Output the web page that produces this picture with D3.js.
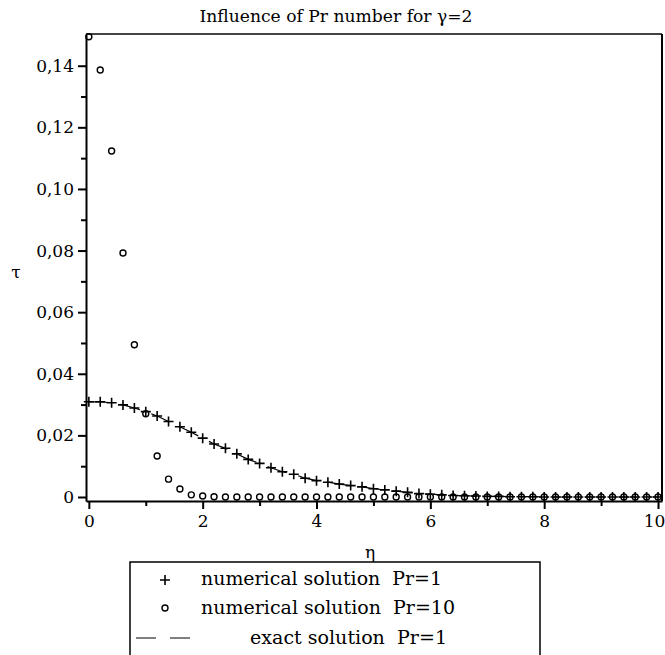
<!DOCTYPE html>
<html>
<head>
<meta charset="utf-8">
<script src="https://cdn.jsdelivr.net/npm/d3@7"></script>
<style>
    body { margin: 0; background: #fff; }
    text { font-family: "DejaVu Serif", "Liberation Serif", serif; fill: #000; white-space: pre; }
</style>
</head>
<body>
<svg id="chart" width="665" height="655"></svg>
<script>
// eta grid of the markers
const etaValues = [0, 0.2, 0.4, 0.6, 0.8, 1.0, 1.2, 1.4, 1.6, 1.8,
                   2.0, 2.2, 2.4, 2.6, 2.8, 3.0, 3.2, 3.4, 3.6, 3.8,
                   4.0, 4.2, 4.4, 4.6, 4.8, 5.0, 5.2, 5.4, 5.6, 5.8,
                   6.0, 6.2, 6.4, 6.6, 6.8, 7.0, 7.2, 7.4, 7.6, 7.8,
                   8.0, 8.2, 8.4, 8.6, 8.8, 9.0, 9.2, 9.4, 9.6, 9.8, 10.0];

// numerical solution Pr=1
const pr1Values = [0.0309, 0.0309, 0.0306, 0.0299, 0.0289, 0.0277, 0.0263, 0.0245, 0.0228, 0.0210,
                   0.0191, 0.0172, 0.0158, 0.0140, 0.0122, 0.0109, 0.0095, 0.0082, 0.0074, 0.0061,
                   0.0053, 0.0048, 0.0042, 0.0037, 0.0033, 0.0027, 0.0023, 0.0019, 0.0015, 0.0011,
                   0.0009, 0.0007, 0.0005, 0.0004, 0.0003, 0.0002, 0.0002, 0.0001, 0.0001, 0.0001,
                   0, 0, 0, 0, 0, 0, 0, 0, 0, 0, 0];

// numerical solution Pr=10
const pr10Values = [0.1494, 0.1386, 0.1123, 0.0792, 0.0494, 0.0270, 0.0133, 0.0058, 0.0026, 0.0007,
                    0.0003, 0.0001, 0, 0, 0, 0, 0, 0, 0, 0,
                    0, 0, 0, 0, 0, 0, 0, 0, 0, 0,
                    0, 0, 0, 0, 0, 0, 0, 0, 0, 0,
                    0, 0, 0, 0, 0, 0, 0, 0, 0, 0, 0];

// exact solution Pr=1 (coincides with the Pr=1 markers in the picture)
const exactValues = pr1Values;

const xMajorTicks = [0, 2, 4, 6, 8, 10];
const xMinorTicks = [1, 3, 5, 7, 9];
const yMajorTicks = [0, 0.02, 0.04, 0.06, 0.08, 0.10, 0.12, 0.14];
const yMinorTicks = [0.01, 0.03, 0.05, 0.07, 0.09, 0.11, 0.13];

const titleText = "Influence of Pr number for \u03b3=2";
const legendLabels = ["numerical solution  Pr=1", "numerical solution  Pr=10", "exact solution  Pr=1"];

let svg = d3.select("#chart");

let xScale = d3.scaleLinear()
    .domain([-0.05, 10.07])
    .range([86, 662]);

let yScale = d3.scaleLinear()
    .domain([-0.0013, 0.1503])
    .range([501, 34]);

let commaFormat = d => d === 0 ? "0" : d3.format(".2f")(d).replace(".", ",");

//Frame top and right
svg.append("line")
    .attr("x1", xScale.range()[0]).attr("x2", xScale.range()[1])
    .attr("y1", yScale.range()[1]).attr("y2", yScale.range()[1])
    .attr("stroke", "#444").attr("stroke-width", 2);

svg.append("line")
    .attr("x1", xScale.range()[1]).attr("x2", xScale.range()[1])
    .attr("y1", yScale.range()[1]).attr("y2", yScale.range()[0])
    .attr("stroke", "#000").attr("stroke-width", 2);

//y axis
let yAxis = svg.append("g")
    .attr("transform", "translate(" + xScale.range()[0] + ",0)")
    .call(d3.axisLeft(yScale).tickValues(yMajorTicks).tickSize(8).tickSizeOuter(0).tickFormat(commaFormat));

svg.append("g")
    .attr("transform", "translate(" + xScale.range()[0] + ",0)")
    .call(d3.axisLeft(yScale).tickValues(yMinorTicks).tickSize(5).tickSizeOuter(0).tickFormat(""))
    .select(".domain").remove();

//x axis
let xAxis = svg.append("g")
    .attr("transform", "translate(0," + yScale.range()[0] + ")")
    .call(d3.axisBottom(xScale).tickValues(xMajorTicks).tickSize(8).tickSizeOuter(0).tickFormat(d3.format("d")));

svg.append("g")
    .attr("transform", "translate(0," + yScale.range()[0] + ")")
    .call(d3.axisBottom(xScale).tickValues(xMinorTicks).tickSize(5).tickSizeOuter(0).tickFormat(""))
    .select(".domain").remove();

svg.selectAll(".domain, .tick line")
    .attr("stroke", "#000")
    .attr("stroke-width", 2);

svg.selectAll(".tick text")
    .style("font-size", "17px");

yAxis.selectAll(".tick text").attr("x", -12);
xAxis.selectAll(".tick text")
    .attr("y", 14)
    .attr("dx", d => d === 10 ? -4 : 0);

//Axis labels and title
svg.append("text")
    .attr("x", 336).attr("y", 22)
    .attr("text-anchor", "middle")
    .attr("textLength", 273)
    .attr("lengthAdjust", "spacingAndGlyphs")
    .style("font-size", "17px")
    .text(titleText);

svg.append("text")
    .attr("x", 16).attr("y", 278)
    .attr("text-anchor", "middle")
    .style("font-size", "17px")
    .text("\u03c4");

svg.append("text")
    .attr("x", 370).attr("y", 558)
    .attr("text-anchor", "middle")
    .style("font-size", "17px")
    .text("\u03b7");

let g = svg.append("g");

//exact solution
let lineGraph = d3.line()
    .x((d, i) => xScale(etaValues[i]))
    .y(d => yScale(d));

g.append("path")
    .datum(exactValues)
    .attr("fill", "none")
    .attr("stroke", "#000")
    .attr("stroke-width", 1.2)
    .attr("stroke-dasharray", "20,12")
    .attr("d", lineGraph);

//Pr=10 circles
g.selectAll(".pr10")
    .data(pr10Values)
    .enter().append("circle")
    .attr("class", "pr10")
    .attr("cx", (d, i) => xScale(etaValues[i]))
    .attr("cy", d => yScale(d))
    .attr("r", 3)
    .attr("fill", "none")
    .attr("stroke", "#000")
    .attr("stroke-width", 1.4);

//Pr=1 crosses
g.selectAll(".pr1")
    .data(pr1Values)
    .enter().append("path")
    .attr("class", "pr1")
    .attr("transform", (d, i) => "translate(" + xScale(etaValues[i]) + "," + yScale(d) + ")")
    .attr("d", "M-5,0H5M0,-5V5")
    .attr("stroke", "#000")
    .attr("stroke-width", 1.6);

//Legend
let legend = svg.append("g");

legend.append("rect")
    .attr("x", 130).attr("y", 562)
    .attr("width", 410).attr("height", 100)
    .attr("fill", "none")
    .attr("stroke", "#000")
    .attr("stroke-width", 1.5);

legend.append("path")
    .attr("d", "M160,580H170M165,575V585")
    .attr("stroke", "#000").attr("stroke-width", 1.6);

legend.append("circle")
    .attr("cx", 165).attr("cy", 608).attr("r", 3)
    .attr("fill", "none").attr("stroke", "#000").attr("stroke-width", 1.4);

legend.append("line")
    .attr("x1", 136).attr("x2", 194)
    .attr("y1", 638).attr("y2", 638)
    .attr("stroke", "#000").attr("stroke-width", 1.2)
    .attr("stroke-dasharray", "20,14");

let legendX = [201, 201, 250];
let legendY = [585, 614, 644];
let legendW = [241, 254, 197];
legend.selectAll(".legtext")
    .data(legendLabels)
    .enter().append("text")
    .attr("class", "legtext")
    .attr("x", (d, i) => legendX[i])
    .attr("y", (d, i) => legendY[i])
    .attr("textLength", (d, i) => legendW[i])
    .attr("lengthAdjust", "spacingAndGlyphs")
    .style("font-size", "18px")
    .text(d => d);
</script>
</body>
</html>
